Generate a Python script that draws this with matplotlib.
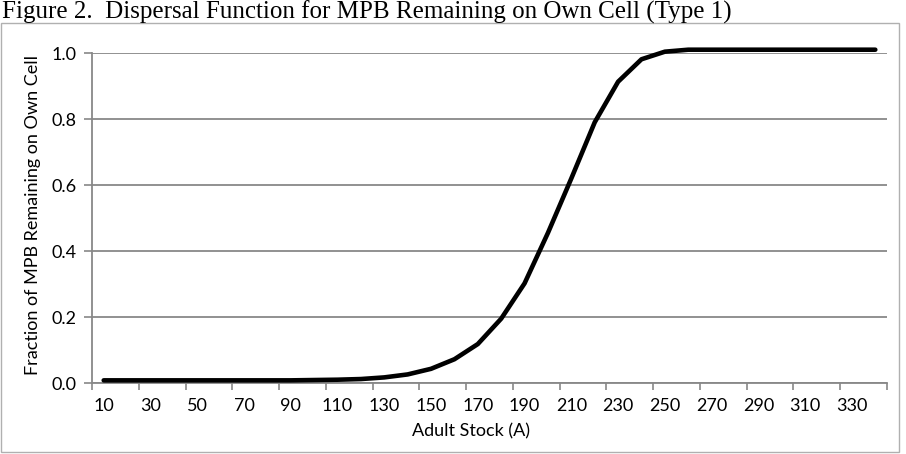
import matplotlib
matplotlib.use('Agg')
import matplotlib.pyplot as plt
from matplotlib.patches import Rectangle
import numpy as np

# adult stock categories and fraction of MPB staying on own cell
stock = [10, 20, 30, 40, 50, 60, 70, 80, 90, 100,
         110, 120, 130, 140, 150, 160, 170, 180, 190, 200,
         210, 220, 230, 240, 250, 260, 270, 280, 290, 300,
         310, 320, 330, 340]
fraction = [0.008, 0.008, 0.008, 0.008, 0.008, 0.008, 0.008, 0.008, 0.008, 0.009,
            0.010, 0.012, 0.017, 0.026, 0.043, 0.072, 0.118, 0.195, 0.302, 0.455,
            0.620, 0.790, 0.913, 0.981, 1.004, 1.010, 1.010, 1.010, 1.010, 1.010,
            1.010, 1.010, 1.010, 1.010]
y_ticks = [0.0, 0.2, 0.4, 0.6, 0.8, 1.0]

W, H = 906, 454
fig = plt.figure(figsize=(W / 100, H / 100), dpi=100)

# title sits above the chart frame
fig.text(2 / W, 1 - 12 / H, 'Figure 2.  Dispersal Function for MPB Remaining on Own Cell (Type 1)',
         family='Liberation Serif', fontsize=18, ha='left', va='center')

# chart frame
fig.patches.append(Rectangle((1 / W, 1 - 452 / H), 898 / W, 429 / H, transform=fig.transFigure,
                             fill=False, edgecolor='#b0b0b0', linewidth=1.0))

left, right, top, bottom = 92, 887, 53, 383
ax = fig.add_axes([left / W, 1 - bottom / H, (right - left) / W, (bottom - top) / H])

grid_color = '#888888'
x = np.arange(len(stock))
ax.plot(x, fraction, color='black', linewidth=3.3, clip_on=False, solid_capstyle='round', zorder=3)

ax.set_xlim(-0.5, len(stock) - 0.5)
ax.set_ylim(0, 1.0)

# y axis
ax.set_yticks(y_ticks)
ax.set_yticklabels([f'{v:.1f}' for v in y_ticks])
ax.yaxis.grid(True, color=grid_color, linewidth=1.3)
ax.set_axisbelow(True)

# category axis: ticks at boundaries every 2 categories, labels at centres
ax.set_xticks(np.arange(-0.5, len(stock), 2))
ax.set_xticklabels([])
ax.set_xticks(x[::2], minor=True)
ax.set_xticklabels([str(s) for s in stock[::2]], minor=True)
ax.tick_params(axis='x', which='major', length=5, width=1.2, color=grid_color, direction='out')
ax.tick_params(axis='x', which='minor', length=0, pad=11)
ax.tick_params(axis='y', length=6, width=1.2, color=grid_color, direction='out', pad=5)

for lab in ax.get_xticklabels(minor=True) + ax.get_yticklabels():
    lab.set_family('Lato')
    lab.set_fontsize(13)

for side in ['top', 'right']:
    ax.spines[side].set_visible(False)
for side in ['left', 'bottom']:
    ax.spines[side].set_color(grid_color)
    ax.spines[side].set_linewidth(1.3)

ax.set_ylabel('Fraction of MPB Remaining on Own Cell', family='Lato', fontsize=13)
ax.yaxis.set_label_coords(-(92 - 41) / (right - left), 0.51)
ax.set_xlabel('Adult Stock (A)', family='Lato', fontsize=13)
ax.xaxis.set_label_coords((471 - left) / (right - left), -(431 - bottom) / (bottom - top))
ax.xaxis.label.set_va('center')

fig.savefig('out.png', dpi=100)
